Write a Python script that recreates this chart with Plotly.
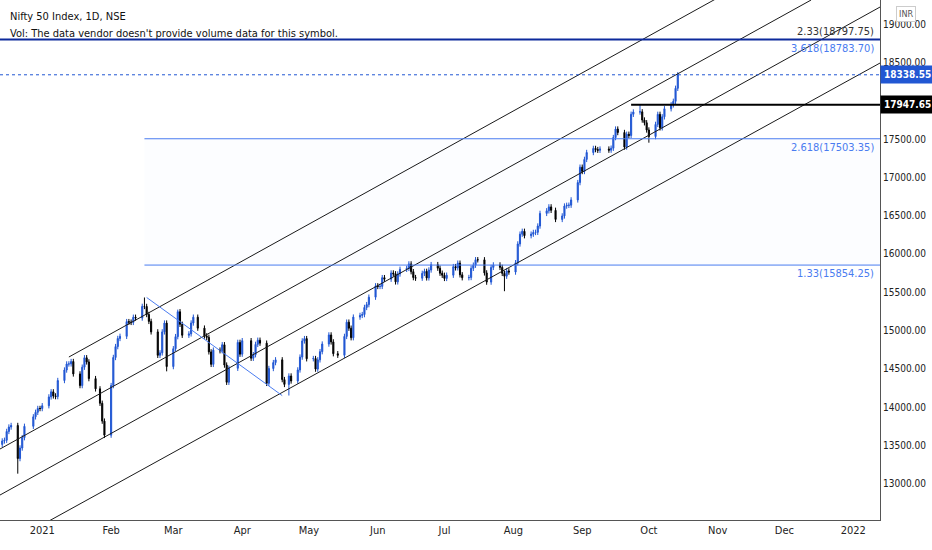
import pandas as pd
import plotly.graph_objects as go

# daily closes, Nifty 50 (read off the chart / approximate)
closes_dec = [13558, 13567, 13682, 13740, 13760, 13328, 13466, 13601, 13749, 13873, 13932, 13982, 13981]
closes_jan = [14018, 14133, 14199, 14146, 14137, 14347, 14484, 14563, 14564, 14595, 14433, 14281, 14521, 14644,
              14590, 14372, 14238, 14050, 13817, 13634]
closes_feb = [14281, 14648, 14790, 14896, 14924, 15116, 15109, 15106, 15173, 15163, 15315, 15314, 15209, 15119,
              14982, 14676, 14708, 14982, 15097, 14529]
closes_mar = [14762, 14920, 15245, 15081, 14938, 14956, 15098, 15174, 15031, 14929, 14911, 14721, 14558, 14744,
              14736, 14814, 14549, 14324, 14507, 14845, 14691]
closes_apr = [14867, 14638, 14684, 14819, 14873, 14835, 14310, 14504, 14581, 14617, 14359, 14296, 14406, 14341,
              14485, 14653, 14864, 14894, 14631]
closes_may = [14634, 14496, 14617, 14724, 14823, 14942, 14851, 14697, 14677, 14923, 15109, 15030, 14906, 15175,
              15197, 15208, 15301, 15338, 15435, 15583]
closes_jun = [15575, 15576, 15690, 15670, 15751, 15740, 15635, 15738, 15799, 15811, 15869, 15768, 15691, 15683,
              15746, 15772, 15687, 15790, 15860, 15814, 15748, 15721]
closes_jul = [15680, 15722, 15834, 15818, 15879, 15727, 15689, 15692, 15812, 15853, 15924, 15923, 15752, 15632,
              15824, 15856, 15824, 15746, 15709, 15778, 15763]
closes_aug = [15885, 16130, 16258, 16295, 16238, 16258, 16280, 16282, 16364, 16529, 16563, 16614, 16569, 16450,
              16496, 16625, 16634, 16636, 16705, 16931, 17132]
closes_sep = [17076, 17234, 17324, 17377, 17362, 17353, 17369, 17355, 17380, 17519, 17630, 17585, 17396, 17562,
              17546, 17823, 17853, 17855, 17748, 17712, 17618]
closes_oct = [17532, 17691, 17822, 17646, 17790, 17895, 17946, 17992, 18162, 18338]

holidays = ["2020-12-25", "2021-01-26", "2021-03-11", "2021-03-29", "2021-04-02", "2021-04-14",
            "2021-04-21", "2021-05-13", "2021-07-21", "2021-08-19", "2021-09-10"]
first_open = 13513
wick = 35
low_marks = {"2020-12-21": 13131, "2021-01-29": 13596, "2021-04-22": 14151, "2021-07-28": 15513,
             "2021-10-01": 17452, "2021-02-26": 14467}
high_marks = {"2021-02-16": 15431, "2021-03-03": 15273, "2021-09-27": 17947}

# drawings
channel_lines = [
    (["2021-01-13", "2022-01-13"], [14654, 20516]),
    (["2020-12-13", "2021-12-13"], [13453, 19315]),
    (["2020-12-13", "2022-01-13"], [12852, 19223]),
    (["2020-12-13", "2022-01-13"], [12161, 18492]),
]
trend_line = (["2021-02-17", "2021-04-19"], [15431, 14150])
fib_top = 18797.75
fib_levels = [17503.35, 15854.25]
fib_start = "2021-02-16"
res_level = 17947.65
res_start = "2021-09-23"
last_price = 18338.55
x_start, x_end = "2020-12-13", "2022-01-13"
tick_dates = ["2021-01-01", "2021-02-01", "2021-03-01", "2021-04-01", "2021-05-01", "2021-06-01",
              "2021-07-01", "2021-08-01", "2021-09-01", "2021-10-01", "2021-11-01", "2021-12-01", "2022-01-01"]
tick_text = ["2021", "Feb", "Mar", "Apr", "May", "Jun", "Jul", "Aug", "Sep", "Oct", "Nov", "Dec", "2022"]
y_ticks = [13000 + 500 * i for i in range(13)]

closes = (closes_dec + closes_jan + closes_feb + closes_mar + closes_apr + closes_may + closes_jun
          + closes_jul + closes_aug + closes_sep + closes_oct)
dates = pd.bdate_range("2020-12-14", "2021-10-14")
dates = dates[~dates.isin(pd.to_datetime(holidays))]
df = pd.DataFrame({"close": closes}, index=dates)
df["open"] = df["close"].shift(1).fillna(first_open)
df["high"] = df[["open", "close"]].max(axis=1) + wick
df["low"] = df[["open", "close"]].min(axis=1) - wick
for d, v in low_marks.items():
    df.loc[d, "low"] = v
for d, v in high_marks.items():
    df.loc[d, "high"] = v

BLUE = "#2157d3"
FONT = "DejaVu Sans Condensed, Liberation Sans Narrow, sans-serif"

fig = go.Figure()
fig.add_shape(type="rect", x0=fib_start, x1=x_end, y0=fib_levels[1], y1=fib_levels[0],
              fillcolor="rgba(41,98,255,0.015)", line_width=0, layer="below")
fig.add_trace(go.Candlestick(
    x=df.index, open=df["open"], high=df["high"], low=df["low"], close=df["close"],
    increasing=dict(line=dict(color=BLUE, width=1), fillcolor=BLUE),
    decreasing=dict(line=dict(color="#000000", width=1), fillcolor="#000000"),
    whiskerwidth=0, showlegend=False, hoverinfo="skip"))

for xs, ys in channel_lines:
    fig.add_trace(go.Scatter(x=xs, y=ys, mode="lines", line=dict(color="#1a1a1a", width=1),
                             showlegend=False, hoverinfo="skip"))
fig.add_trace(go.Scatter(x=trend_line[0], y=trend_line[1], mode="lines",
                         line=dict(color="#4a7cf0", width=1), showlegend=False, hoverinfo="skip"))

fig.add_shape(type="line", x0=x_start, x1=x_end, y0=fib_top, y1=fib_top, line=dict(color="#0d2a9c", width=2))
for lv in fib_levels:
    fig.add_shape(type="line", x0=fib_start, x1=x_end, y0=lv, y1=lv, line=dict(color="#4a7cf0", width=1))
fig.add_shape(type="line", x0=res_start, x1=x_end, y0=res_level, y1=res_level, line=dict(color="#000", width=2))
fig.add_shape(type="line", x0=x_start, x1=x_end, y0=last_price, y1=last_price,
              line=dict(color=BLUE, width=1, dash="dot"))

labels = [("2.33(18797.75)", fib_top, "bottom", "#333"),
          ("3.618(18783.70)", fib_top, "top", "#4a7cf0"),
          ("2.618(17503.35)", fib_levels[0], "top", "#4a7cf0"),
          ("1.33(15854.25)", fib_levels[1], "top", "#4a7cf0")]
for txt, y, ya, col in labels:
    fig.add_annotation(x=1, xref="paper", y=y, yref="y", text=txt, showarrow=False, xanchor="right",
                       yanchor=ya, xshift=-4, font=dict(size=11, color=col, family=FONT))

for val, bg in [(last_price, BLUE), (res_level, "#000000")]:
    fig.add_annotation(x=1, xref="paper", y=val, yref="y", text=f"<b>{val:.2f}</b>", showarrow=False,
                       xanchor="left", bgcolor=bg, font=dict(size=10, color="white", family=FONT),
                       borderpad=3)

fig.add_annotation(x=0.009, xref="paper", y=1, yref="paper", yshift=-8, text="Nifty 50 Index, 1D, NSE",
                   showarrow=False, xanchor="left", yanchor="top", font=dict(size=11, color="#111", family=FONT))
fig.add_annotation(x=0.009, xref="paper", y=1, yref="paper", yshift=-25,
                   text="Vol: The data vendor doesn't provide volume data for this symbol.",
                   showarrow=False, xanchor="left", yanchor="top", font=dict(size=11, color="#111", family=FONT))
fig.add_annotation(x=1, xref="paper", y=1, yref="paper", xshift=26, yshift=-6, text="INR", showarrow=False,
                   xanchor="center", yanchor="top", bordercolor="#ccc", borderwidth=1, borderpad=2,
                   bgcolor="white", font=dict(size=9, color="#555", family=FONT))

fig.update_layout(
    width=932, height=550, margin=dict(l=0, r=52, t=0, b=30, autoexpand=False),
    paper_bgcolor="white", plot_bgcolor="white",
    font=dict(family=FONT, size=11, color="#222"),
    xaxis=dict(range=[x_start, x_end], rangeslider=dict(visible=False), showgrid=False, automargin=False,
               tickvals=tick_dates, ticktext=tick_text, ticks="", showline=True, linecolor="#555",
               zeroline=False, tickfont=dict(size=11, color="#222")),
    yaxis=dict(range=[12526, 19315], side="right", showgrid=False, tickvals=y_ticks, automargin=False,
               ticktext=[f"{v:.2f}" for v in y_ticks], ticks="", showline=True, linecolor="#555",
               zeroline=False, tickfont=dict(size=10, color="#222")),
)

fig.write_html("out.html", config={"displayModeBar": False},
               post_script="document.body.style.margin='0';")
